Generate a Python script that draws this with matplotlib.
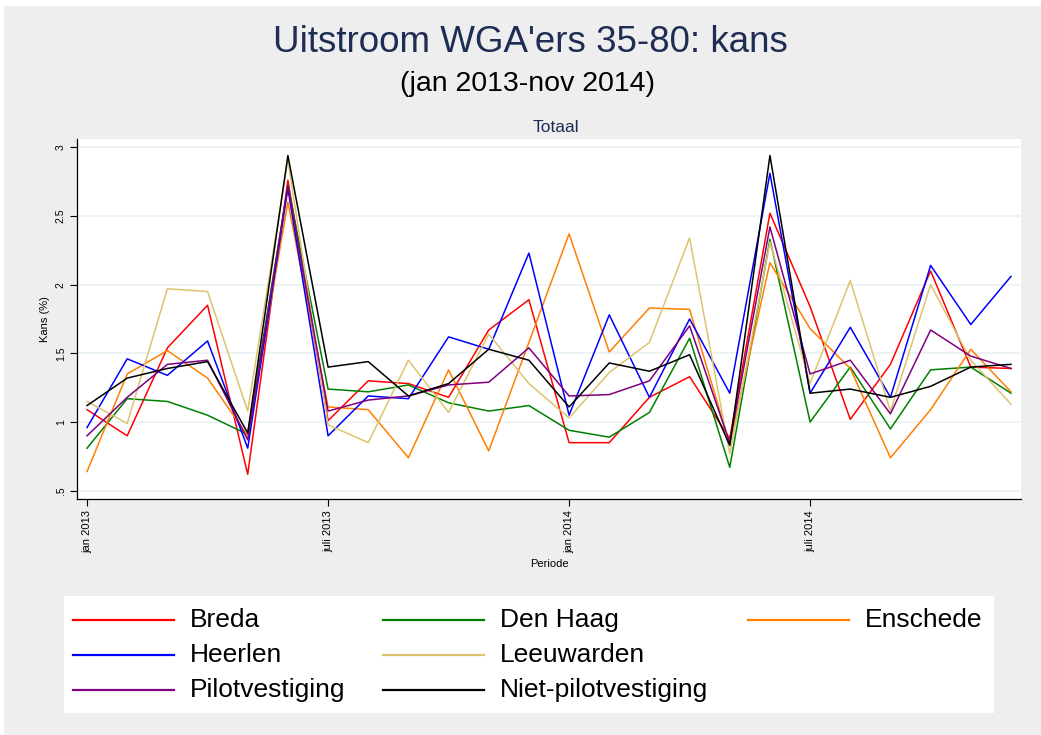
import numpy as np
import matplotlib
matplotlib.use('Agg')
import matplotlib.pyplot as plt
from matplotlib.patches import Rectangle
from matplotlib.lines import Line2D

plt.rcParams['font.family'] = ['Liberation Sans', 'DejaVu Sans']

# data: kans (%) per maand, jan 2013 .. (24 punten)
months = np.arange(24)
tick_pos = [0, 6, 12, 18]
tick_labels = ['jan 2013', 'juli 2013', 'jan 2014', 'juli 2014']

breda = [1.09, 0.90, 1.54, 1.85, 0.62, 2.76, 1.01, 1.30, 1.28, 1.18, 1.67, 1.89,
         0.85, 0.85, 1.18, 1.33, 0.88, 2.52, 1.84, 1.02, 1.42, 2.10, 1.40, 1.39]
den_haag = [0.81, 1.17, 1.15, 1.05, 0.91, 2.72, 1.24, 1.22, 1.27, 1.14, 1.08, 1.12,
            0.94, 0.89, 1.07, 1.61, 0.67, 2.33, 1.00, 1.40, 0.95, 1.38, 1.40, 1.21]
enschede = [0.64, 1.35, 1.52, 1.32, 0.90, 2.60, 1.11, 1.09, 0.74, 1.38, 0.79, 1.58,
            2.37, 1.51, 1.83, 1.82, 0.84, 2.16, 1.68, 1.39, 0.74, 1.09, 1.53, 1.22]
heerlen = [0.96, 1.46, 1.34, 1.59, 0.81, 2.70, 0.90, 1.19, 1.17, 1.62, 1.53, 2.23,
           1.05, 1.78, 1.18, 1.75, 1.21, 2.81, 1.21, 1.69, 1.18, 2.14, 1.71, 2.06]
leeuwarden = [1.15, 0.99, 1.97, 1.95, 1.08, 2.91, 0.98, 0.85, 1.45, 1.07, 1.64, 1.28,
              1.03, 1.36, 1.58, 2.34, 0.77, 2.31, 1.28, 2.03, 1.08, 2.00, 1.45, 1.13]
pilot = [0.90, 1.18, 1.42, 1.45, 0.87, 2.72, 1.08, 1.16, 1.19, 1.27, 1.29, 1.54,
         1.19, 1.20, 1.30, 1.70, 0.85, 2.42, 1.35, 1.45, 1.06, 1.67, 1.48, 1.39]
niet_pilot = [1.12, 1.32, 1.39, 1.44, 0.92, 2.94, 1.40, 1.44, 1.19, 1.28, 1.53, 1.45,
              1.11, 1.43, 1.37, 1.49, 0.83, 2.94, 1.21, 1.24, 1.18, 1.26, 1.40, 1.42]

names = ['Breda', 'Den Haag', 'Enschede', 'Heerlen', 'Leeuwarden',
         'Pilotvestiging', 'Niet-pilotvestiging']
series = [breda, den_haag, enschede, heerlen, leeuwarden, pilot, niet_pilot]
colors = ['#ff0000', '#008000', '#ff7f00', '#0000ff', '#dcc46e', '#800080', '#000000']
# legend slots (row, col) as Stata lays them out
legend_slots = [(0, 0), (0, 1), (0, 2), (1, 0), (1, 1), (2, 0), (2, 1)]

W, H = 1041, 735
fig = plt.figure(figsize=(W / 100, H / 100), dpi=100, facecolor='white')
fig.patches.append(Rectangle((4 / W, 0), 1, 1 - 6 / H, transform=fig.transFigure,
                             facecolor='#eeeeee', edgecolor='none', zorder=-10))

def px(x0, y0, x1, y1):
    return [x0 / W, 1 - y1 / H, (x1 - x0) / W, (y1 - y0) / H]

ax = fig.add_axes(px(77, 139, 1021, 499))
ax.set_facecolor('white')
for vals, c in zip(series, colors):
    ax.plot(months, vals, color=c, lw=1.1)

ax.set_xlim(-0.25, 23.25)
ax.set_ylim(0.44, 3.06)
ax.set_yticks([0.5, 1, 1.5, 2, 2.5, 3])
ax.set_yticklabels(['.5', '1', '1.5', '2', '2.5', '3'], rotation=90, va='center', fontsize=7.5)
ax.set_xticks(tick_pos)
ax.set_xticklabels(tick_labels, rotation=90, fontsize=8)
ax.tick_params(length=5, width=0.8, pad=3)
ax.grid(axis='y', color='#eaf2f3', lw=1.2)
ax.set_axisbelow(True)
for s in ['top', 'right']:
    ax.spines[s].set_visible(False)
ax.spines['left'].set_linewidth(0.9)
ax.spines['bottom'].set_linewidth(0.9)
ax.set_ylabel('Kans (%)', fontsize=8, labelpad=4)
ax.set_xlabel('Periode', fontsize=8, labelpad=4)

fig.text(530 / W, 1 - 42 / H, "Uitstroom WGA'ers 35-80: kans", ha='center', va='center',
         fontsize=26.5, color='#1f2d55')
fig.text(527 / W, 1 - 84 / H, '(jan 2013-nov 2014)', ha='center', va='center',
         fontsize=20.5, color='black')
fig.text(556 / W, 1 - 127 / H, 'Totaal', ha='center', va='center', fontsize=12.5,
         color='#1f2d55')

# legend box, drawn by hand (row-wise, 3 columns)
fig.patches.append(Rectangle((64 / W, 1 - 713 / H), 930 / W, 117 / H, transform=fig.transFigure,
                             facecolor='white', edgecolor='none', zorder=1))
col_x = [73, 383, 748]
row_y = [620, 655, 690]
for name, c, (r, k) in zip(names, colors, legend_slots):
    x0, y = col_x[k], row_y[r]
    fig.lines.append(Line2D([x0 / W, (x0 + 101) / W], [1 - y / H, 1 - y / H],
                            transform=fig.transFigure, color=c, lw=1.6, zorder=2))
    fig.text((x0 + 117) / W, 1 - y / H, name, ha='left', va='center', fontsize=19, zorder=3)

fig.savefig('out.png', dpi=100, facecolor=fig.get_facecolor())
